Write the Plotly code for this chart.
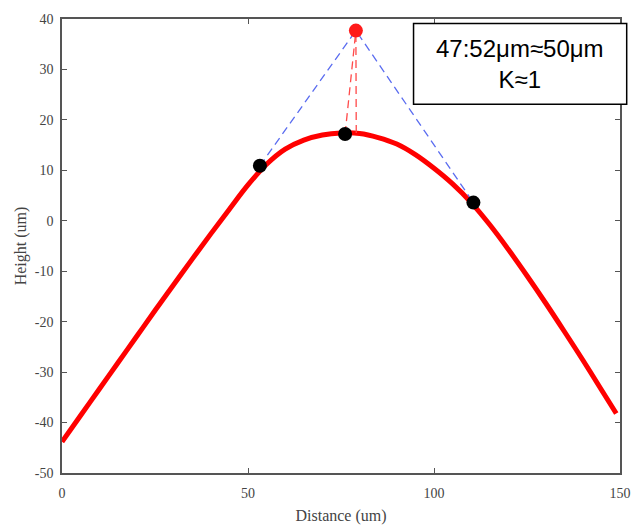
import plotly.graph_objects as go

# Height profile along the scan
distance = [0, 5, 10, 15, 20, 25, 30, 35, 40, 45, 50, 55, 60, 65, 70, 75, 80,
            85, 90, 95, 100, 105, 110, 115, 120, 125, 130, 135, 140, 145, 149]
height = [-43.8, -38.6, -33.4, -28.2, -23.0, -17.8, -12.7, -7.6, -2.6, 2.3, 7.1,
          11.2, 14.2, 16.0, 17.0, 17.4, 17.3, 16.5, 15.2, 13.1, 10.4, 7.3, 3.6,
          -0.8, -5.7, -10.9, -16.3, -21.9, -27.6, -33.5, -38.2]

# Sampled points on the profile and the apex of the tangent construction
pts_x = [53.2, 76.1, 110.6]
pts_y = [10.9, 17.2, 3.6]
apex_x = [79.0]
apex_y = [37.7]
foot_x = [79.1]
foot_y = [17.4]

x_ticks = [0, 50, 100, 150]
y_ticks = [-50, -40, -30, -20, -10, 0, 10, 20, 30, 40]

fig = go.Figure()

fig.add_trace(go.Scatter(x=distance, y=height, mode="lines", line_shape="spline",
                         line=dict(color="#ff0000", width=5), hoverinfo="skip"))

# Blue dashed tangent lines to the apex
fig.add_trace(go.Scatter(x=[pts_x[0], apex_x[0], pts_x[2]],
                         y=[pts_y[0], apex_y[0], pts_y[2]],
                         mode="lines", line=dict(color="#5a6cf0", width=1.3, dash="8px,5px")))

# Red dashed lines from the apex down to the profile
fig.add_trace(go.Scatter(x=[pts_x[1], apex_x[0]], y=[pts_y[1], apex_y[0]],
                         mode="lines", line=dict(color="#ff4a4a", width=1.3, dash="8px,5px")))
fig.add_trace(go.Scatter(x=[foot_x[0], apex_x[0]], y=[foot_y[0], apex_y[0]],
                         mode="lines", line=dict(color="#ff4a4a", width=1.3, dash="8px,5px")))

fig.add_trace(go.Scatter(x=pts_x, y=pts_y, mode="markers",
                         marker=dict(color="black", size=14)))
fig.add_trace(go.Scatter(x=apex_x, y=apex_y, mode="markers",
                         marker=dict(color="#ff1a1a", size=14)))

axis_common = dict(
    showline=True, linecolor="#555555", linewidth=1.5, mirror="ticks",
    ticks="inside", ticklen=5, tickwidth=1.2, tickcolor="#555555",
    showgrid=False, zeroline=False, automargin=False,
    tickfont=dict(family="Liberation Serif", size=14, color="#444444"),
)

fig.update_xaxes(range=[0, 150], tickvals=x_ticks,
                 ticktext=[str(v) for v in x_ticks], ticklabelstandoff=6,
                 title=dict(text="Distance (um)", standoff=10,
                            font=dict(family="Liberation Serif", size=16, color="#444444")),
                 **axis_common)
fig.update_yaxes(range=[-50, 40], tickvals=y_ticks,
                 ticktext=[str(v) for v in y_ticks], ticklabelstandoff=4,
                 title=dict(text="Height (um)", standoff=4,
                            font=dict(family="Liberation Serif", size=16, color="#444444")),
                 **axis_common)

# Text box in the upper right
fig.add_shape(type="rect", xref="paper", yref="paper", x0=0.630, x1=1.012,
              y0=0.812, y1=0.990, line=dict(color="black", width=1.5),
              fillcolor="white", layer="above")
fig.add_annotation(xref="paper", yref="paper", x=0.821, y=0.901,
                   xanchor="center", yanchor="middle",
                   text="47:52μm≈50μm<br>K≈1", showarrow=False,
                   font=dict(family="Liberation Sans", size=24, color="black"),
                   align="center")

fig.update_layout(
    width=633, height=525, showlegend=False,
    margin=dict(l=62, r=13, t=19, b=52, autoexpand=False),
    plot_bgcolor="white", paper_bgcolor="white",
)

fig.write_html("out.html")
